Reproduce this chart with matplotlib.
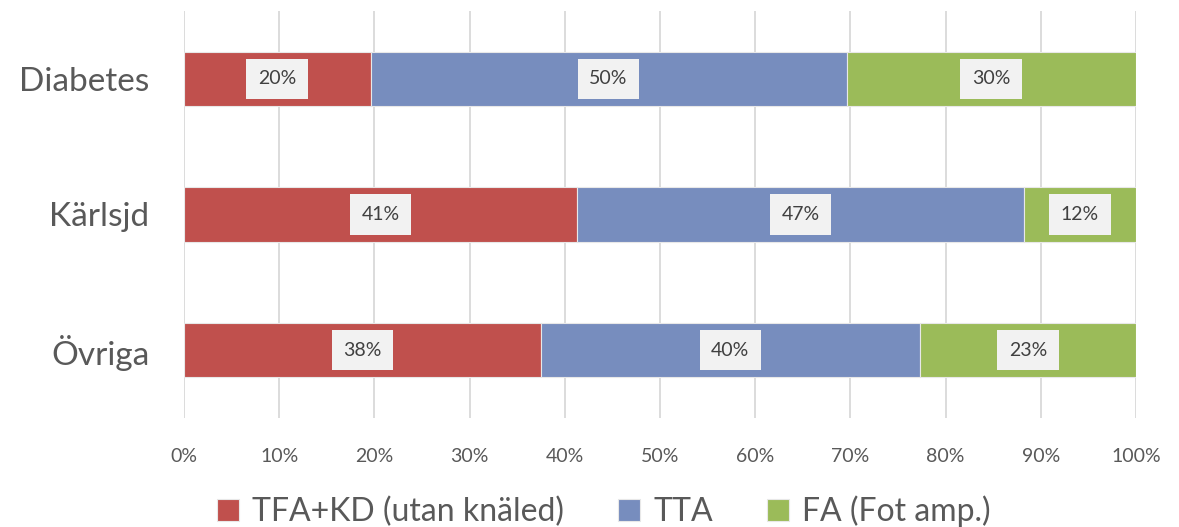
import numpy as np
import matplotlib.pyplot as plt

plt.rcParams['font.family'] = ['Lato', 'DejaVu Sans']

categories = ["Diabetes", "Kärlsjd", "Övriga"]
series_names = ["TFA+KD (utan knäled)", "TTA", "FA (Fot amp.)"]
# andel i procent per kategori
tfa_kd = [19.6, 41.3, 37.5]
tta = [50.0, 46.9, 39.8]
fa = [30.4, 11.8, 22.7]
colors = ["#C0504D", "#778DBE", "#9BBB59"]

fig = plt.figure(figsize=(11.79, 5.27), dpi=100)
ax = fig.add_axes([0.156, 0.207, 0.8075, 0.772])

y = np.arange(len(categories))
left = np.zeros(len(categories))
for name, vals, c in zip(series_names, [tfa_kd, tta, fa], colors):
    vals = np.array(vals)
    ax.barh(y, vals, left=left, height=0.4, color=c, edgecolor="#E8E8E8",
            linewidth=0.8, label=name, zorder=3)
    for yi, l, v in zip(y, left, vals):
        ax.text(l + v / 2, yi, "%d%%" % round(v), ha="center", va="center",
                fontsize=14, color="#404040", zorder=4,
                bbox=dict(boxstyle="square,pad=0.6", fc="#F2F2F2", ec="none"))
    left += vals

ax.set_xlim(0, 100)
ax.set_ylim(2.5, -0.5)
ax.set_xticks(np.arange(0, 101, 10))
ax.set_xticklabels(["%d%%" % t for t in range(0, 101, 10)])
ax.set_yticks(y)
ax.set_yticklabels(categories)
ax.tick_params(axis="x", length=0, labelsize=14, colors="#595959", pad=22)
ax.tick_params(axis="y", length=0, labelsize=24, colors="#595959", pad=25)
ax.grid(axis="x", color="#D9D9D9", linewidth=1.3, zorder=0)
for s in ax.spines.values():
    s.set_visible(False)

fig.legend(loc="lower center", bbox_to_anchor=(0.512, -0.055), ncol=3, frameon=False,
           fontsize=23, handlelength=0.7, handleheight=0.7, columnspacing=1.7,
           handletextpad=0.4, labelcolor="#595959")

fig.savefig("out.png", dpi=100)
